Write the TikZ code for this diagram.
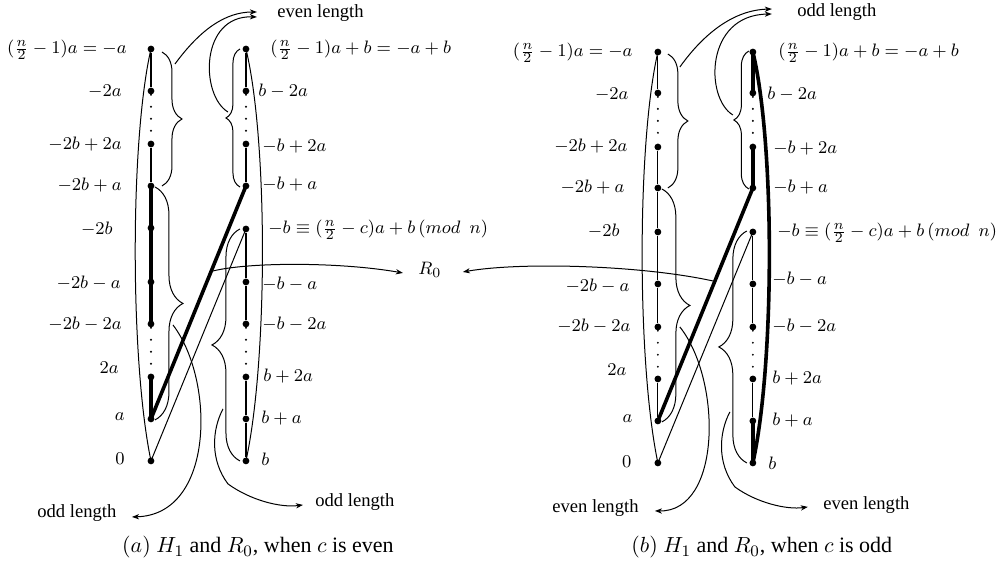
\documentclass[tikz,border=0pt]{standalone}
\usepackage[no-math]{fontspec}
\setmainfont{Liberation Serif}
\usetikzlibrary{arrows.meta,decorations.pathreplacing}
\begin{document}
\begin{tikzpicture}[x=0.5pt,y=-0.5pt,
  vtx/.style={circle,fill=black,inner sep=0pt,minimum size=3.4pt},
  lbl/.style={inner sep=0pt,font=\fontsize{9.3}{11}\selectfont},
  captext/.style={inner sep=0pt,font=\fontsize{11}{13}\selectfont},
  thinln/.style={line width=0.6pt},
  thickln/.style={line width=1.8pt,line cap=round},
  dotln/.style={line width=1.1pt,dash pattern=on 0pt off 6pt,line cap=round},
  arr/.style={line width=0.5pt,-{Stealth[length=3.5pt,width=2.6pt,inset=1pt]}},
  brc/.style={line width=0.5pt,decorate,decoration={brace,amplitude=#1}},
  crv/.style={line width=0.5pt},
]
\fill[white] (0,0) rectangle (997,564);
% ---------------- panel (a) ----------------
\foreach \y [count=\i] in {49,91,144,186,228,282,324,377,419,461}
  \node[vtx] (a\i) at (151,\y) {};
\foreach \y [count=\i] in {49,91,144,186,229,282,324,377,419,461}
  \node[vtx] (b\i) at (246,\y) {};
\draw[thinln] (a1)--(a2) (a3)--(a4);
\draw[dotln] (a2)--(a3) (a7)--(a8);
\draw[thickln] (a4.center)--(a5.center)--(a6.center)--(a7.center) (a8.center)--(a9.center);
\draw[thinln] (b1)--(b2) (b3)--(b4) (b5)--(b6)--(b7) (b8)--(b9)--(b10);
\draw[dotln] (b2)--(b3) (b7)--(b8);
\draw[thickln] (a9.center)--(b4.center);
\draw[crv] (a10.center)--(b5.center);
\draw[crv] (a1.center) .. controls (130,140) and (130,360) .. (a10.center);
\draw[crv] (b1.center) .. controls (268,140) and (268,360) .. (b10.center);
% braces
\draw[brc=10pt] (162,52) -- (162,186);
\draw[brc=7pt] (240,187) -- (240,49);
\draw[brc=14pt] (155,187) -- (155,420);
\draw[brc=14pt] (240,461) -- (240,229);
% labels left
\node[lbl,anchor=mid east] (la1) at (127,49) {$(\frac{n}{2}-1)a=-a$};
\node[lbl,anchor=mid east] (la2) at (122,92) {$-2a$};
\node[lbl,anchor=mid east] (la3) at (122,145) {$-2b+2a$};
\node[lbl,anchor=mid east] (la4) at (122,186) {$-2b+a$};
\node[lbl,anchor=mid east] (la5) at (113,230) {$-2b$};
\node[lbl,anchor=mid east] (la6) at (121,284) {$-2b-a$};
\node[lbl,anchor=mid east] (la7) at (122,325) {$-2b-2a$};
\node[lbl,anchor=mid east] (la8) at (119,369) {$2a$};
\node[lbl,anchor=mid east] (la9) at (125,416) {$a$};
\node[lbl,anchor=mid east] (la10) at (125,460) {$0$};
% labels right
\node[lbl,anchor=mid west] (lb1) at (270,49) {$(\frac{n}{2}-1)a+b=-a+b$};
\node[lbl,anchor=mid west] (lb2) at (258,92) {$b-2a$};
\node[lbl,anchor=mid west] (lb3) at (262,147) {$-b+2a$};
\node[lbl,anchor=mid west] (lb4) at (262,185) {$-b+a$};
\node[lbl,anchor=mid west] (lb5) at (268,229) {$-b\equiv(\frac{n}{2}-c)a+b\,(mod\ \ n)$};
\node[lbl,anchor=mid west] (lb6) at (262,285) {$-b-a$};
\node[lbl,anchor=mid west] (lb7) at (262,325) {$-b-2a$};
\node[lbl,anchor=mid west] (lb8) at (263,377) {$b+2a$};
\node[lbl,anchor=mid west] (lb9) at (261,419) {$b+a$};
\node[lbl,anchor=mid west] (lb10) at (261,461) {$b$};
% texts
\node[lbl,anchor=base west] (evA) at (277,17) {even length};
\node[lbl,anchor=base west] (odA1) at (37,518) {odd length};
\node[lbl,anchor=base west] (odA2) at (315,507) {odd length};
\node[lbl,anchor=mid west] (R0) at (418,270) {$R_0$};
\node[captext,anchor=base] (capA) at (258,553) {$(a)$ $H_1$ and $R_0$, when $c$ is even};
% arrows
\coordinate (sA1) at (175,64);  \coordinate (eA1) at (257,12);
\coordinate (sA2) at (228,112); \coordinate (eA2) at (257,17);
\coordinate (sA3) at (173,325); \coordinate (eA3) at (132,517);
\coordinate (sA4) at (223,409); \coordinate (eA4) at (303,505);
\coordinate (sR1) at (213,271); \coordinate (eR1) at (403,273);
\draw[arr] (sA1) .. controls (200,30) and (225,12) .. (eA1);
\draw[arr] (sA2) .. controls (200,95) and (200,15) .. (eA2);
\draw[arr] (sA3) .. controls (215,380) and (215,515) .. (eA3);
\draw[arr] (sA4) .. controls (212,430) and (210,460) .. (228,484) .. controls (250,500) and (280,508) .. (eA4);
\draw[arr] (sR1) .. controls (250,262) and (340,262) .. (eR1);
% ---------------- panel (b) ----------------
\foreach \y [count=\i] in {52,93,147,188,232,284,327,379,421,463}
  \node[vtx] (c\i) at (658,\y) {};
\foreach \y [count=\i] in {52,93,147,188,232,284,327,379,421,463}
  \node[vtx] (d\i) at (753,\y) {};
\draw[thinln] (c1)--(c2) (c3)--(c4)--(c5)--(c6)--(c7) (c8)--(c9);
\draw[dotln] (c2)--(c3) (c7)--(c8);
\draw[thickln] (d1.center)--(d2.center) (d3.center)--(d4.center) (d9.center)--(d10.center);
\draw[thinln] (d5)--(d6)--(d7) (d8)--(d9);
\draw[dotln] (d2)--(d3) (d7)--(d8);
\draw[thickln] (c9.center)--(d4.center);
\draw[crv] (c10.center)--(d5.center);
\draw[crv] (c1.center) .. controls (637,143) and (637,363) .. (c10.center);
\draw[thickln] (d1.center) .. controls (775,143) and (775,363) .. (d10.center);
% braces
\draw[brc=10pt] (668,54) -- (668,188);
\draw[brc=7.5pt] (749,189) -- (749,51);
\draw[brc=14pt] (662,189) -- (662,422);
\draw[brc=14pt] (747,463) -- (747,231);
% labels left
\node[lbl,anchor=mid east] (lc1) at (633,52) {$(\frac{n}{2}-1)a=-a$};
\node[lbl,anchor=mid east] (lc2) at (629,95) {$-2a$};
\node[lbl,anchor=mid east] (lc3) at (628,147) {$-2b+2a$};
\node[lbl,anchor=mid east] (lc4) at (625,188) {$-2b+a$};
\node[lbl,anchor=mid east] (lc5) at (620,232) {$-2b$};
\node[lbl,anchor=mid east] (lc6) at (630,287) {$-2b-a$};
\node[lbl,anchor=mid east] (lc7) at (631,327) {$-2b-2a$};
\node[lbl,anchor=mid east] (lc8) at (627,371) {$2a$};
\node[lbl,anchor=mid east] (lc9) at (633,418) {$a$};
\node[lbl,anchor=mid east] (lc10) at (632,463) {$0$};
% labels right
\node[lbl,anchor=mid west] (ld1) at (778,52) {$(\frac{n}{2}-1)a+b=-a+b$};
\node[lbl,anchor=mid west] (ld2) at (767,95) {$b-2a$};
\node[lbl,anchor=mid west] (ld3) at (773,149) {$-b+2a$};
\node[lbl,anchor=mid west] (ld4) at (773,188) {$-b+a$};
\node[lbl,anchor=mid west] (ld5) at (777,232) {$-b\equiv(\frac{n}{2}-c)a+b\,(mod\ \ n)$};
\node[lbl,anchor=mid west] (ld6) at (772,280) {$-b-a$};
\node[lbl,anchor=mid west] (ld7) at (772,327) {$-b-2a$};
\node[lbl,anchor=mid west] (ld8) at (772,379) {$b+2a$};
\node[lbl,anchor=mid west] (ld9) at (772,421) {$b+a$};
\node[lbl,anchor=mid west] (ld10) at (768,465) {$b$};
% texts
\node[lbl,anchor=base west] (odB) at (797,16) {odd length};
\node[lbl,anchor=base west] (evB1) at (552,513) {even length};
\node[lbl,anchor=base west] (evB2) at (823,510) {even length};
\node[captext,anchor=base] (capB) at (762,553) {$(b)$ $H_1$ and $R_0$, when $c$ is odd};
% arrows
\coordinate (sB1) at (680,67);  \coordinate (eB1) at (772,9);
\coordinate (sB2) at (733,115); \coordinate (eB2) at (772,14);
\coordinate (sB3) at (680,327); \coordinate (eB3) at (655,511);
\coordinate (sB4) at (730,412); \coordinate (eB4) at (808,507);
\coordinate (sR2) at (713,281); \coordinate (eR2) at (463,272);
\draw[arr] (sB1) .. controls (705,32) and (735,10) .. (eB1);
\draw[arr] (sB2) .. controls (705,98) and (705,15) .. (eB2);
\draw[arr] (sB3) .. controls (722,380) and (722,512) .. (eB3);
\draw[arr] (sB4) .. controls (719,433) and (717,463) .. (735,487) .. controls (757,503) and (787,510) .. (eB4);
\draw[arr] (sR2) .. controls (640,265) and (520,262) .. (eR2);
\end{tikzpicture}
\end{document}
